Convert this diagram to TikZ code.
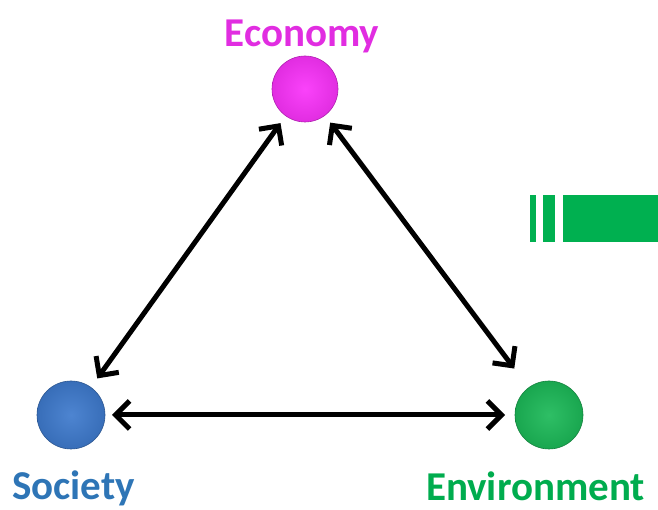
\documentclass[tikz,border=0pt]{standalone}
\usepackage{fontspec}
\setmainfont{Carlito}
\usetikzlibrary{arrows.meta}
\definecolor{ecoC}{RGB}{250,50,250}
\definecolor{ecoT}{RGB}{225,45,225}
\definecolor{socC}{RGB}{62,122,205}
\definecolor{socT}{RGB}{46,117,182}
\definecolor{envC}{RGB}{28,185,88}
\definecolor{envT}{RGB}{0,172,78}
\definecolor{barC}{RGB}{0,176,80}
\tikzset{
  ball/.style={circle, minimum size=#1, inner sep=0pt, outer sep=0pt},
  lbl/.style={font=\bfseries\fontsize{41}{41}\selectfont, anchor=base, inner sep=0pt},
  link/.style={line width=5pt, {Straight Barb[length=14pt,width=28pt]}-{Straight Barb[length=14pt,width=28pt]}},
}
\begin{document}
\begin{tikzpicture}[x=1pt,y=1pt]
\useasboundingbox (0,0) rectangle (658,510);
% circles
\node[ball=66pt, shading=radial, inner color=ecoC!92!white, outer color=ecoC!90!black, draw=ecoC!70!black, line width=0.6pt] (eco) at (305,421) {};
\node[ball=68pt, shading=radial, inner color=socC!92!white, outer color=socC!90!black, draw=socC!70!black, line width=0.6pt] (soc) at (71,95) {};
\node[ball=68pt, shading=radial, inner color=envC!92!white, outer color=envC!90!black, draw=envC!70!black, line width=0.6pt] (env) at (549,95) {};
% labels
\node[lbl, text=ecoT] (ecol) at (302,463) {Economy};
\node[lbl, text=socT] (socl) at (73.5,10) {Society};
\node[lbl, text=envT, text depth=0pt] (envl) at (535.5,9) {Environment};
% arrows
\draw[link, shorten <=9pt, shorten >=11pt] (eco) -- (soc);
\draw[link, shorten <=9pt, shorten >=24pt] (eco) -- (env);
\draw[link, shorten <=7pt, shorten >=10pt] (soc) -- (env);
% green bar
\fill[barC] (530,268) rectangle (536,315);
\fill[barC] (543,268) rectangle (555,315);
\fill[barC] (563,268) rectangle (658,315);
\end{tikzpicture}
\end{document}
